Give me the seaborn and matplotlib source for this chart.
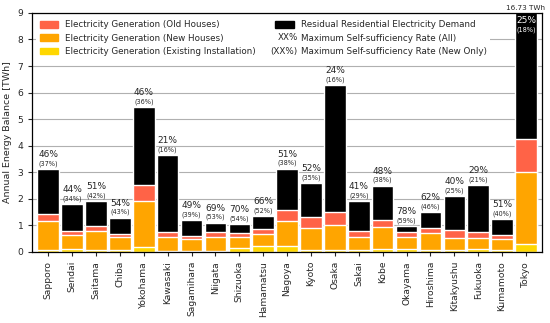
import numpy as np
import matplotlib

matplotlib.use('Agg')
import matplotlib.pyplot as plt
import pandas as pd
import seaborn as sns
from matplotlib.patches import Patch
from matplotlib.text import Text
from matplotlib.legend_handler import HandlerBase

# --- data (TWh) ---
cities = ["Sapporo", "Sendai", "Saitama", "Chiba", "Yokohama", "Kawasaki",
          "Sagamihara", "Niigata", "Shizuoka", "Hamamatsu", "Nagoya", "Kyoto",
          "Osaka", "Sakai", "Kobe", "Okayama", "Hiroshima", "Kitakyushu",
          "Fukuoka", "Kumamoto", "Tokyo"]
gen_existing = [0.09, 0.11, 0.09, 0.06, 0.17, 0.04, 0.04, 0.05, 0.15, 0.21, 0.24,
                0.06, 0.09, 0.09, 0.12, 0.11, 0.09, 0.09, 0.11, 0.09, 0.31]
gen_new = [1.06, 0.51, 0.70, 0.49, 1.76, 0.53, 0.43, 0.51, 0.40, 0.48, 0.92,
           0.84, 0.92, 0.46, 0.83, 0.45, 0.62, 0.42, 0.40, 0.40, 2.70]
gen_old = [0.29, 0.18, 0.18, 0.14, 0.58, 0.18, 0.12, 0.20, 0.18, 0.19, 0.42,
           0.43, 0.48, 0.24, 0.26, 0.18, 0.21, 0.33, 0.23, 0.13, 1.23]
residual = [1.68, 1.00, 0.95, 0.60, 2.95, 2.90, 0.60, 0.34, 0.32, 0.46, 1.55,
            1.26, 4.79, 1.12, 1.28, 0.22, 0.58, 1.27, 1.77, 0.62, 12.49]
rate_all = [46, 44, 51, 54, 46, 21, 49, 69, 70, 66, 51, 52, 24, 41, 48, 78, 62,
            40, 29, 51, 25]
rate_new = [37, 34, 42, 43, 36, 16, 39, 53, 54, 52, 38, 35, 16, 29, 38, 59, 46,
            25, 21, 40, 18]

c_existing = '#FFD700'
c_new = '#FFA500'
c_old = '#FF6347'
c_resid = 'black'


class TextHandle:
    """Legend entry drawn as plain text instead of a patch."""
    def __init__(self, text):
        self.text = text


class TextHandler(HandlerBase):
    def create_artists(self, legend, orig_handle, xdescent, ydescent,
                       width, height, fontsize, trans):
        t = Text(x=width - xdescent + 3, y=height / 2 - ydescent,
                 text=orig_handle.text, fontsize=fontsize,
                 ha='right', va='center', transform=trans)
        return [t]


sns.set_style("ticks")
plt.rcParams['font.family'] = ['DejaVu Sans']

df = pd.DataFrame({
    'city': cities,
    'existing': gen_existing,
    'new': gen_new,
    'old': gen_old,
    'residual': residual,
})
df['cum_existing'] = df['existing']
df['cum_new'] = df['cum_existing'] + df['new']
df['cum_old'] = df['cum_new'] + df['old']
df['total'] = df['cum_old'] + df['residual']

fig, ax = plt.subplots(figsize=(5.5, 3.23), dpi=100)
fig.subplots_adjust(left=0.059, right=0.985, top=0.96, bottom=0.22)

# Overlapping cumulative bars -> stacked look
for col, color in [('total', c_resid), ('cum_old', c_old),
                   ('cum_new', c_new), ('cum_existing', c_existing)]:
    sns.barplot(data=df, x='city', y=col, color=color, width=0.9,
                saturation=1, ax=ax, zorder=2)

ymax = 9
ax.set_ylim(0, ymax)
ax.set_xlim(-0.66, len(cities) - 1 + 0.66)
ax.set_yticks(range(0, 10))
ax.yaxis.grid(True, color='#b0b0b0', linewidth=0.8, zorder=0)
ax.set_axisbelow(True)
ax.set_xlabel('')
ax.set_ylabel('Annual Energy Balance [TWh]', fontsize=6.8)
ax.tick_params(axis='both', labelsize=6.6, length=3, width=0.8)
ax.tick_params(axis='x', rotation=90)
for s in ax.spines.values():
    s.set_visible(True)
    s.set_color('black')
    s.set_linewidth(0.9)

# Self-sufficiency labels
for i, (tot, ra, rn) in enumerate(zip(df['total'], rate_all, rate_new)):
    if tot > ymax:
        ax.text(i, 8.7, f'{ra}%', ha='center', va='center', fontsize=6.5,
                color='white')
        ax.text(i, 8.38, f'({rn}%)', ha='center', va='center', fontsize=4.7,
                color='white')
        ax.text(1.007, 1.006, f'{tot:.2f} TWh', transform=ax.transAxes,
                ha='right', va='bottom', fontsize=5.2)
    else:
        ax.text(i, tot + 0.55, f'{ra}%', ha='center', va='center', fontsize=6.5)
        ax.text(i, tot + 0.21, f'({rn}%)', ha='center', va='center',
                fontsize=4.7)

handles = [Patch(color=c_old), Patch(color=c_new), Patch(color=c_existing),
           Patch(color=c_resid), TextHandle('XX%'), TextHandle('(XX%)')]
labels = ['Electricity Generation (Old Houses)',
          'Electricity Generation (New Houses)',
          'Electricity Generation (Existing Installation)',
          'Residual Residential Electricity Demand',
          'Maximum Self-sufficiency Rate (All)',
          'Maximum Self-sufficiency Rate (New Only)']
leg = ax.legend(handles, labels, ncol=2, loc='upper left', fontsize=6.3,
                frameon=True, framealpha=1, edgecolor='white',
                handler_map={TextHandle: TextHandler()},
                handlelength=2.1, handleheight=0.75, handletextpad=0.8,
                columnspacing=2.2, borderaxespad=0.45, labelspacing=0.5)
leg.get_frame().set_linewidth(0)

fig.savefig('out.png', dpi=100)
